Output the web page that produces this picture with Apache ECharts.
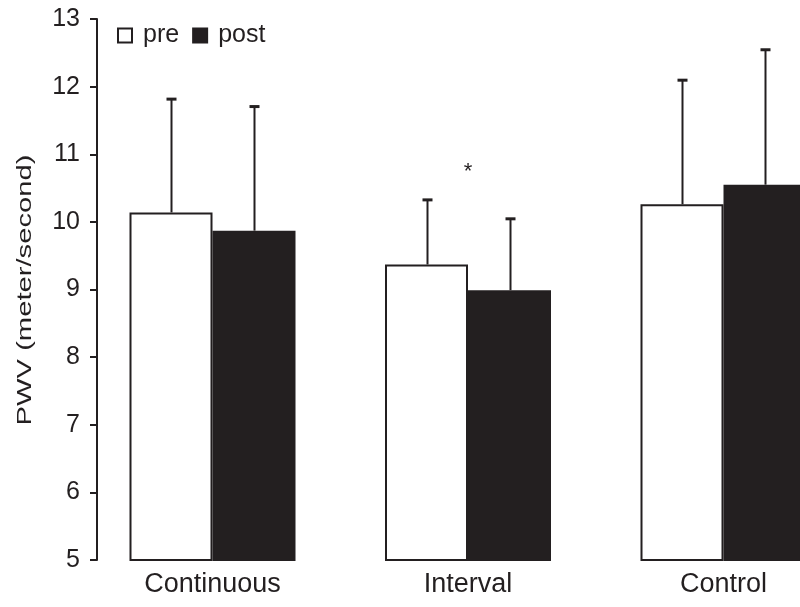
<!DOCTYPE html>
<html><head><meta charset="utf-8">
<script src="https://cdn.jsdelivr.net/npm/echarts@6/dist/echarts.min.js"></script>
<style>html,body{margin:0;padding:0;background:#fff}#c{width:800px;height:607px}</style>
</head><body><div id="c"></div>
<script>
const categories = ['Continuous', 'Interval', 'Control'];
const seriesNames = ['pre', 'post'];
const preMean = [10.14, 9.37, 10.26];
const postMean = [9.87, 8.99, 10.55];
const preSD = [1.69, 0.97, 1.85];
const postSD = [1.85, 1.07, 2.01];
const yTicks = [5, 6, 7, 8, 9, 10, 11, 12, 13];
const sigCategory = ['Interval'];
const sigValue = [10.8];
const sigText = ['*'];
const yTitle = 'PWV (meter/second)';

const INK = '#231f20';
const FONT = '"Liberation Sans", Arial, Helvetica, sans-serif';
const BAR_W = 83;

function errSeries(means, sds, offset) {
  return {
    type: 'custom',
    silent: true,
    z: 5,
    data: categories.map((c, i) => [i, means[i], means[i] + sds[i]]),
    renderItem: function (params, api) {
      const a = api.coord([api.value(0), api.value(1)]);
      const b = api.coord([api.value(0), api.value(2)]);
      const x = Math.round(a[0] + offset) + 0.5;
      return {
        type: 'group',
        children: [
          { type: 'line', shape: { x1: x, y1: a[1], x2: x, y2: b[1] + 1 }, style: { stroke: INK, lineWidth: 2 } },
          { type: 'line', shape: { x1: x - 5, y1: b[1] + 1, x2: x + 5, y2: b[1] + 1 }, style: { stroke: INK, lineWidth: 3 } }
        ]
      };
    }
  };
}

const chart = echarts.init(document.getElementById('c'), null, { renderer: 'canvas' });
chart.setOption({
  animation: false,
  backgroundColor: '#fff',
  textStyle: { fontFamily: FONT },
  grid: { left: 84.75, width: 766.5, top: 19, bottom: 47, containLabel: false, outerBoundsMode: 'none' },
  legend: {
    data: seriesNames,
    left: 112,
    top: 18,
    icon: 'rect',
    itemWidth: 14,
    itemHeight: 14,
    itemGap: 13,
    textStyle: { fontSize: 25, color: INK, fontFamily: FONT, padding: [0, 0, 0, 6] }
  },
  xAxis: {
    type: 'category',
    data: categories,
    axisLine: { show: false },
    axisTick: { show: false },
    axisLabel: { fontSize: 27, color: INK, margin: 11, fontFamily: FONT }
  },
  yAxis: {
    type: 'value',
    min: yTicks[0],
    max: yTicks[yTicks.length - 1],
    interval: 1,
    offset: -12.25,
    splitLine: { show: false },
    axisLine: { show: true, lineStyle: { color: INK, width: 2 } },
    axisTick: { show: true, length: 7, lineStyle: { color: INK, width: 2 } },
    axisLabel: { fontSize: 25, color: INK, margin: 17, fontFamily: FONT }
  },
  graphic: [{
    type: 'text',
    x: 25,
    y: 290,
    rotation: Math.PI / 2,
    scaleX: 1.39,
    style: { text: yTitle, font: '21px ' + FONT, fill: INK, textAlign: 'center', textVerticalAlign: 'middle' }
  }],
  series: [
    {
      name: 'pre', type: 'bar', data: preMean, barWidth: BAR_W, barGap: '0%',
      itemStyle: { color: '#ffffff', borderColor: INK, borderWidth: 2 }
    },
    {
      name: 'post', type: 'bar', data: postMean, barWidth: BAR_W, barGap: '0%',
      itemStyle: { color: INK, borderColor: INK, borderWidth: 2 }
    },
    errSeries(preMean, preSD, -BAR_W / 2),
    errSeries(postMean, postSD, BAR_W / 2),
    {
      type: 'custom',
      silent: true,
      z: 6,
      data: sigCategory.map((c, i) => [categories.indexOf(c), sigValue[i], i]),
      renderItem: function (params, api) {
        const p = api.coord([api.value(0), api.value(1)]);
        return {
          type: 'text',
          x: p[0], y: p[1] + 4.5,
          style: { text: sigText[api.value(2)], font: '22px ' + FONT, fill: INK, textAlign: 'center', textVerticalAlign: 'middle' }
        };
      }
    }
  ]
});
</script>
</body></html>
